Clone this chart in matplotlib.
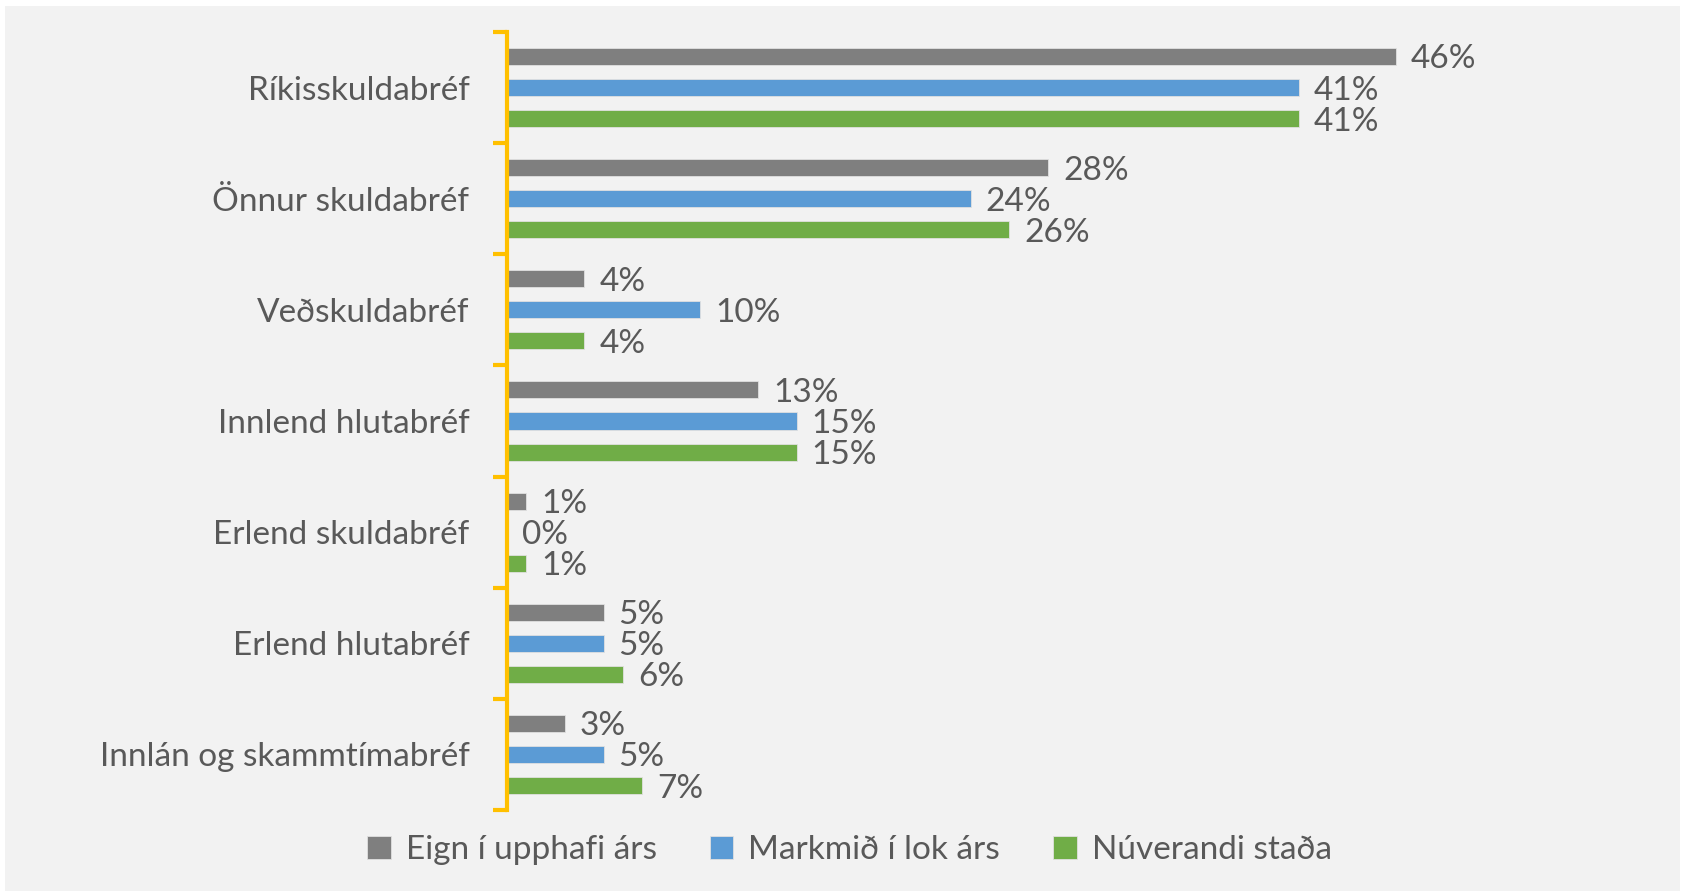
import numpy as np
import matplotlib
matplotlib.use("Agg")
import matplotlib.pyplot as plt
from matplotlib.patches import Rectangle

categories = ["Ríkisskuldabréf", "Önnur skuldabréf", "Veðskuldabréf", "Innlend hlutabréf",
              "Erlend skuldabréf", "Erlend hlutabréf", "Innlán og skammtímabréf"]
series_names = ["Eign í upphafi árs", "Markmið í lok árs", "Núverandi staða"]
eign = [46, 28, 4, 13, 1, 5, 3]
markmid = [41, 24, 10, 15, 0, 5, 5]
nuverandi = [41, 26, 4, 15, 1, 6, 7]
colors = ["#7f7f7f", "#5b9bd5", "#70ad47"]

plt.rcParams['font.family'] = ['Lato', 'DejaVu Sans']
txt = "#595959"
fs = 24

W, H = 1682, 893
fig = plt.figure(figsize=(W / 100, H / 100), dpi=100, facecolor="white")
fig.patches.append(Rectangle((5 / W, 2 / H), 1675 / W, 885 / H, transform=fig.transFigure,
                             facecolor="#f2f2f2", edgecolor="none", zorder=-10))

left, right = 507 / W, 1640 / W
bottom, top = 1 - 810 / H, 1 - 32 / H
ax = fig.add_axes([left, bottom, right - left, top - bottom])
ax.set_facecolor("none")

y = np.arange(len(categories))
off = 0.28
h = 0.153
bars = []
for i, vals in enumerate([eign, markmid, nuverandi]):
    b = ax.barh(y + (i - 1) * off, vals, height=h, color=colors[i], edgecolor="#e0e0e0",
                linewidth=0.6, label=series_names[i])
    bars.append(b)
    for yy, v in zip(y + (i - 1) * off, vals):
        ax.annotate(f"{v}%", (v, yy), xytext=(15, -3), textcoords="offset pixels",
                    va="center", ha="left", fontsize=fs, color=txt)

ax.set_xlim(0, (1640 - 507) / 19.32)
ax.set_ylim(len(categories) - 0.5, -0.5)
ax.set_yticks(np.arange(len(categories) + 1) - 0.5)
ax.set_yticklabels([])
ax.set_yticks(y, minor=True)
ax.set_yticklabels(categories, minor=True, fontsize=fs, color=txt)
ax.tick_params(axis="y", which="major", length=10, width=3, color="#ffc000", direction="out")
ax.tick_params(axis="y", which="minor", length=0, pad=27)
ax.set_xticks([])
for s in ["top", "right", "bottom"]:
    ax.spines[s].set_visible(False)
ax.spines["left"].set_color("#ffc000")
ax.spines["left"].set_linewidth(3)

leg = fig.legend(handles=bars, labels=series_names, loc="center", bbox_to_anchor=(0.505, 1 - 850 / H),
                 ncol=3, frameon=False, handlelength=0.7, handleheight=0.7,
                 handletextpad=0.45, columnspacing=1.6, labelcolor=txt, prop={"size": fs})

fig.savefig("out.png", dpi=100, facecolor=fig.get_facecolor())
